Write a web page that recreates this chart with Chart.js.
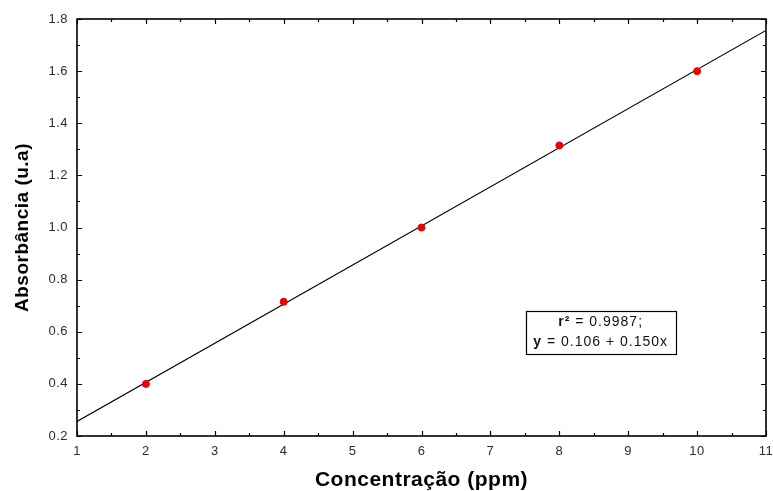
<!DOCTYPE html>
<html>
<head>
<meta charset="utf-8">
<script src="https://cdn.jsdelivr.net/npm/chart.js@4.4.1/dist/chart.umd.min.js"></script>
<style>
  html, body { margin: 0; padding: 0; background: #fff; }
  #wrap { width: 773px; height: 491px; }
</style>
</head>
<body>
<div id="wrap"><canvas id="calChart" width="773" height="491"></canvas></div>
<script>
'use strict';

// Calibration points
const concentration = [2, 4, 6, 8, 10];
const absorbance = [0.40, 0.715, 1.00, 1.315, 1.60];

// Fitted line y = 0.106 + 0.150x, drawn between the axis ends
const fitX = [1, 11];
const fitY = [0.256, 1.756];

// Axis ranges and tick steps
const xRange = [1, 11];
const yRange = [0.2, 1.8];
const xStep = 1;
const yStep = 0.2;

// Text in the box: [text, bold]
const fitLabelLines = [
  [['r\u00B2', true], [' = 0.9987;', false]],
  [['y', true], [' = 0.106 + 0.150x', false]]
];
const fitLabelAt = [8.6, 0.597];

const axisColor = '#000';
const tickFontColor = '#2b2b3a';
const fontFamily = '"Liberation Sans", Arial, sans-serif';

// Statistica-like wide text
const wideText = {
  id: 'wideText',
  beforeDraw(chart) {
    chart.ctx.letterSpacing = '0.5px';
  }
};

// Inward ticks on all four sides (major + minor halfway)
const frameTicks = {
  id: 'frameTicks',
  afterDraw(chart) {
    const { ctx, chartArea: a, scales: { x, y } } = chart;
    ctx.save();
    ctx.strokeStyle = axisColor;
    ctx.lineWidth = 1.2;
    ctx.beginPath();
    for (let v = xRange[0]; v <= xRange[1] + 1e-9; v += xStep / 2) {
      const px = Math.round(x.getPixelForValue(v)) + 0.5;
      const major = Math.abs(v - Math.round(v)) < 1e-6;
      const len = major ? 5 : 3;
      ctx.moveTo(px, a.bottom); ctx.lineTo(px, a.bottom - len);
      ctx.moveTo(px, a.top); ctx.lineTo(px, a.top + len);
    }
    for (let v = yRange[0]; v <= yRange[1] + 1e-9; v += yStep / 2) {
      const py = Math.round(y.getPixelForValue(v)) + 0.5;
      const major = Math.abs(v / yStep - Math.round(v / yStep)) < 1e-6;
      const len = major ? 5 : 3;
      ctx.moveTo(a.left, py); ctx.lineTo(a.left + len, py);
      ctx.moveTo(a.right, py); ctx.lineTo(a.right - len, py);
    }
    ctx.stroke();
    // frame
    ctx.lineWidth = 1.6;
    ctx.strokeRect(a.left, a.top, a.right - a.left, a.bottom - a.top);
    ctx.restore();
  }
};

// Box with r² and the equation
const fitLabel = {
  id: 'fitLabel',
  afterDraw(chart) {
    const { ctx, scales: { x, y } } = chart;
    const cx = x.getPixelForValue(fitLabelAt[0]);
    const cy = y.getPixelForValue(fitLabelAt[1]);
    ctx.save();
    const w = 150, h = 43;
    ctx.fillStyle = '#fff';
    ctx.fillRect(cx - w / 2, cy - h / 2, w, h);
    ctx.strokeStyle = '#000';
    ctx.lineWidth = 1.2;
    ctx.strokeRect(Math.round(cx - w / 2) + 0.5, Math.round(cy - h / 2) + 0.5, w, h);
    ctx.fillStyle = '#111';
    ctx.textAlign = 'left';
    ctx.textBaseline = 'middle';
    ctx.letterSpacing = '1px';
    const fontFor = bold => (bold ? 'bold ' : '') + '14px ' + fontFamily;
    fitLabelLines.forEach((parts, i) => {
      let total = 0;
      parts.forEach(([t, b]) => { ctx.font = fontFor(b); total += ctx.measureText(t).width; });
      let px = cx - total / 2;
      const py = cy + (i === 0 ? -10 : 10);
      parts.forEach(([t, b]) => {
        ctx.font = fontFor(b);
        ctx.fillText(t, px, py);
        px += ctx.measureText(t).width;
      });
    });
    ctx.restore();
  }
};

const ctx = document.getElementById('calChart').getContext('2d');
new Chart(ctx, {
  type: 'scatter',
  data: {
    datasets: [
      {
        label: 'fit',
        type: 'line',
        data: fitX.map((v, i) => ({ x: v, y: fitY[i] })),
        borderColor: '#000',
        borderWidth: 1.1,
        pointRadius: 0,
        fill: false,
        order: 2
      },
      {
        label: 'pontos',
        data: concentration.map((v, i) => ({ x: v, y: absorbance[i] })),
        backgroundColor: '#ee0000',
        borderColor: '#ee0000',
        pointRadius: 3.5,
        order: 1
      }
    ]
  },
  options: {
    responsive: false,
    animation: false,
    layout: { padding: { left: 0, top: 19, right: 7, bottom: 0 } },
    plugins: {
      legend: { display: false },
      tooltip: { enabled: false }
    },
    scales: {
      x: {
        type: 'linear',
        min: xRange[0],
        max: xRange[1],
        ticks: {
          stepSize: xStep,
          color: tickFontColor,
          font: { family: fontFamily, size: 13 },
          padding: 8
        },
        grid: { display: false, drawTicks: false, tickLength: 0 },
        border: { display: false },
        title: {
          display: true,
          text: 'Concentração (ppm)',
          color: '#000',
          font: { family: fontFamily, size: 21, weight: 'bold', lineHeight: 1 },
          padding: { top: 4, bottom: 0 }
        },
        afterFit(scale) {
          scale.height = 55;
          scale.paddingLeft = 0;
          scale.paddingRight = 0;
        }
      },
      y: {
        type: 'linear',
        min: yRange[0],
        max: yRange[1],
        ticks: {
          stepSize: yStep,
          color: tickFontColor,
          font: { family: fontFamily, size: 13 },
          padding: 9,
          callback: v => Number(v).toFixed(1)
        },
        grid: { display: false, drawTicks: false, tickLength: 0 },
        border: { display: false },
        title: {
          display: true,
          text: 'Absorbância (u.a)',
          color: '#000',
          font: { family: fontFamily, size: 19, weight: 'bold' },
          padding: { top: 11, bottom: 4 }
        },
        afterFit(scale) {
          scale.width = 77;
          scale.paddingTop = 0;
          scale.paddingBottom = 0;
        }
      }
    }
  },
  plugins: [wideText, frameTicks, fitLabel]
});
</script>
</body>
</html>
